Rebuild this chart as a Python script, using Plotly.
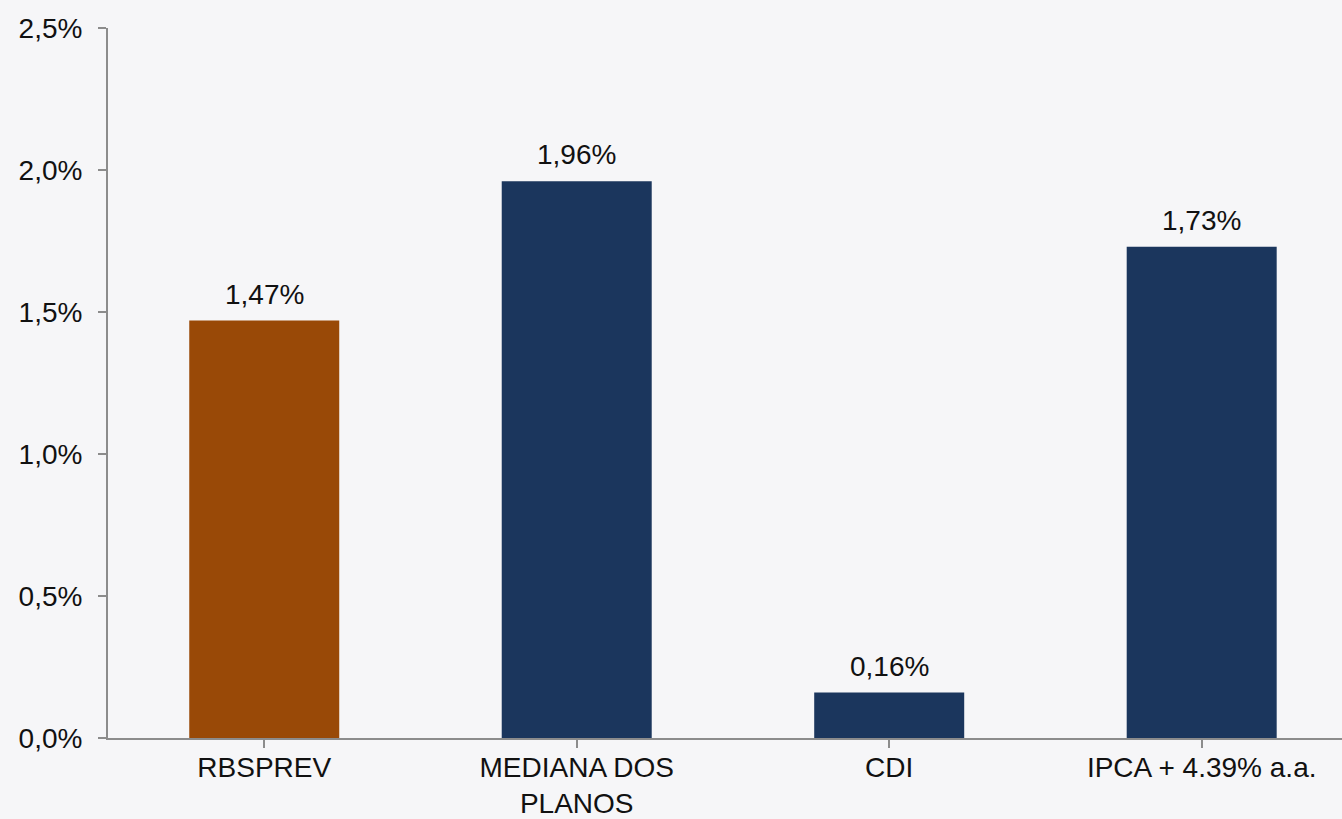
import plotly.graph_objects as go

categories = ["RBSPREV", "MEDIANA DOS<br>PLANOS", "CDI", "IPCA + 4.39% a.a."]
values = [1.47, 1.96, 0.16, 1.73]
colors = ["#994907", "#1B365D", "#1B365D", "#1B365D"]
y_ticks = [0.0, 0.5, 1.0, 1.5, 2.0, 2.5]
y_tick_labels = ["0,0%", "0,5%", "1,0%", "1,5%", "2,0%", "2,5%"]

labels = [f"{v:.2f}".replace(".", ",") + "%" for v in values]
FONT = "Liberation Sans, Arial, sans-serif"
BG = "#f6f6f8"

fig = go.Figure(go.Bar(
    x=list(range(len(categories))),
    y=values,
    marker=dict(color=colors, line=dict(width=0)),
    width=0.48,
    hoverinfo="skip",
))

for i, (v, t) in enumerate(zip(values, labels)):
    fig.add_annotation(
        x=i, y=v, text=t, showarrow=False,
        yanchor="bottom", yshift=9,
        font=dict(size=28, color="#111111", family=FONT),
    )

fig.update_layout(
    width=1342, height=819,
    margin=dict(l=108, r=0, t=28, b=81),
    paper_bgcolor=BG,
    plot_bgcolor=BG,
    font=dict(family=FONT, size=28, color="#111111"),
    showlegend=False,
)
fig.update_xaxes(
    range=[-0.5, 3.449],
    tickmode="array",
    tickvals=list(range(len(categories))),
    ticktext=categories,
    tickson="boundaries",
    ticks="outside", ticklen=8, tickcolor="#8c8c8c", tickwidth=2,
    showline=True, linecolor="#8c8c8c", linewidth=2,
    showgrid=False, zeroline=False,
    tickfont=dict(size=28),
    ticklabelstandoff=-5,
    automargin=False,
)
fig.update_yaxes(
    range=[0, 2.5],
    tickmode="array",
    tickvals=y_ticks,
    ticktext=y_tick_labels,
    ticks="outside", ticklen=8, tickcolor="#8c8c8c", tickwidth=2,
    showline=True, linecolor="#8c8c8c", linewidth=2,
    showgrid=False, zeroline=False,
    tickfont=dict(size=28),
    ticklabelstandoff=10,
    automargin=False,
)

fig.write_html(
    "out.html",
    config={"displayModeBar": False},
    post_script="document.body.style.margin='0';document.body.style.background='%s';document.body.style.overflow='hidden';" % BG,
)
